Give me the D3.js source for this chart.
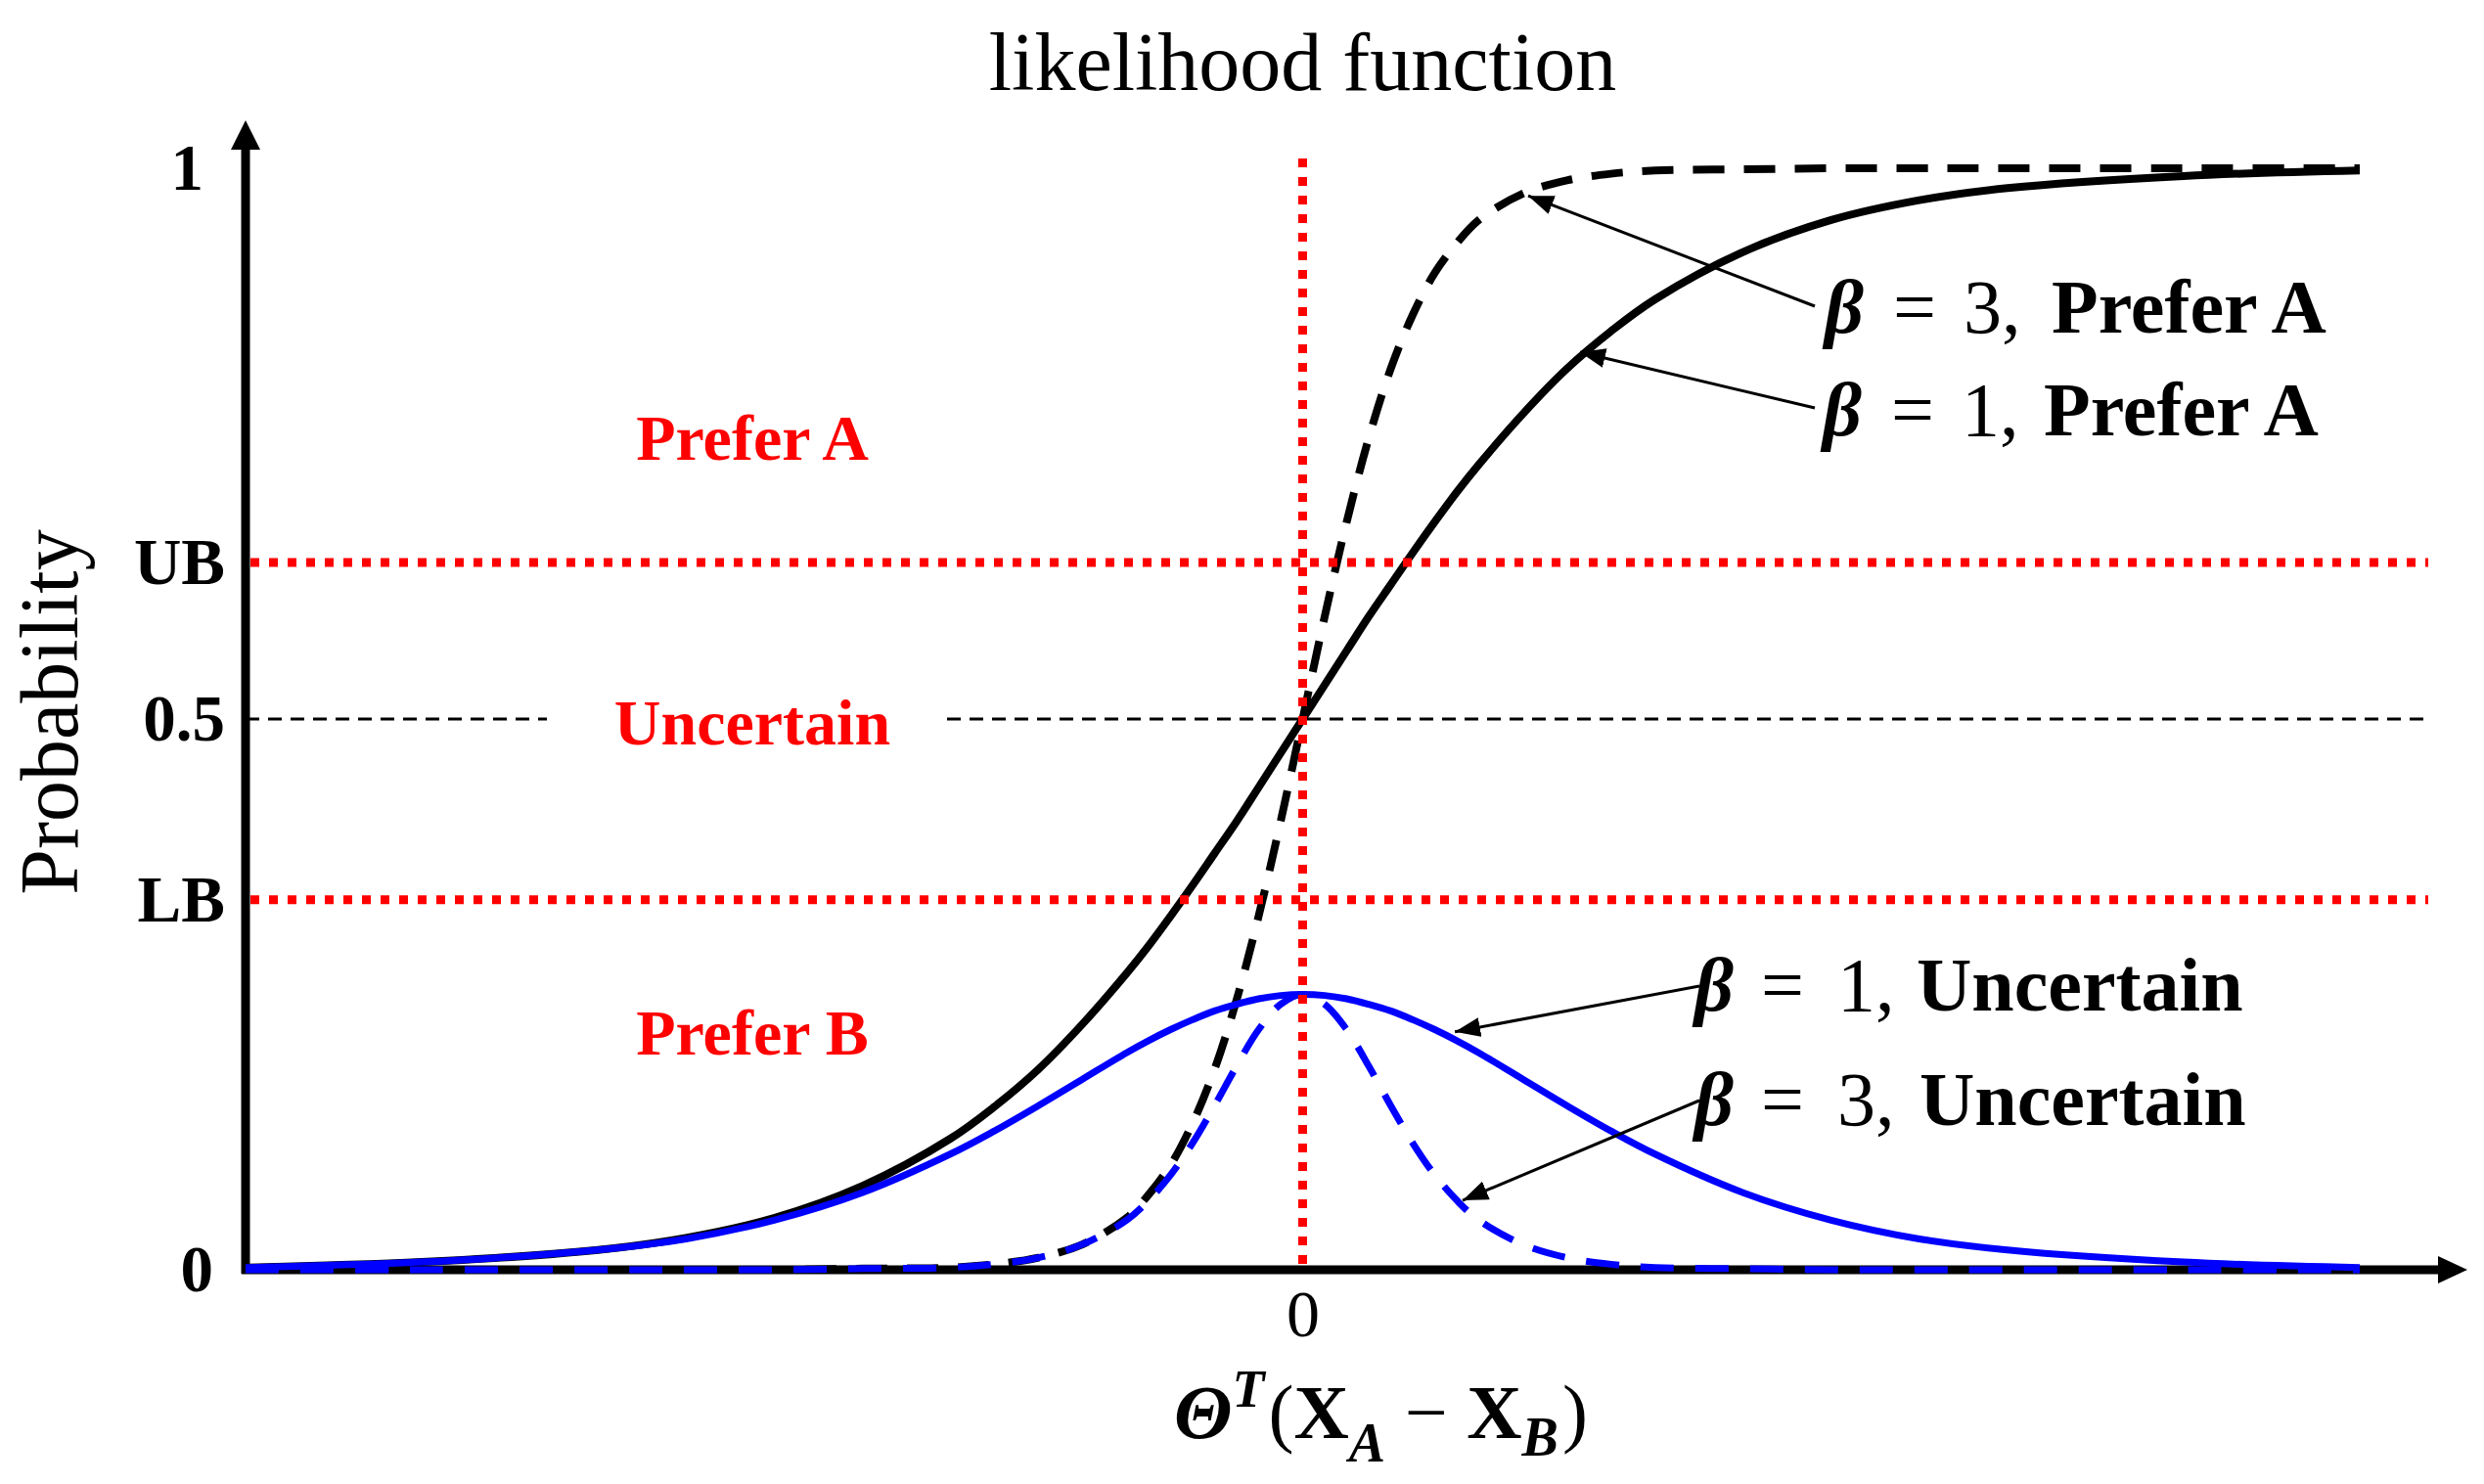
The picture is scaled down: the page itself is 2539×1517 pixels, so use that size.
<!DOCTYPE html>
<html>
<head>
<meta charset="utf-8">
<script src="https://cdn.jsdelivr.net/npm/d3@7"></script>
<style>
    body { margin: 0; background: #fff; }
    text { font-family: "Liberation Serif", "DejaVu Serif", serif; }
</style>
</head>
<body>
<svg id="chart"></svg>
<script>
// x positions the curves were read at
let xValues = [-6, -5, -4, -3.5, -3, -2.5, -2, -1.75, -1.5, -1.25, -1, -0.875, -0.75, -0.625, -0.5, -0.375, -0.25, -0.125,
    0, 0.125, 0.25, 0.375, 0.5, 0.625, 0.75, 0.875, 1, 1.25, 1.5, 1.75, 2, 2.5, 3, 3.5, 4, 5, 6];

let preferA1 = [0.002, 0.007, 0.018, 0.029, 0.047, 0.076, 0.119, 0.148, 0.182, 0.223, 0.269, 0.294, 0.321, 0.349, 0.378, 0.407, 0.438, 0.469,
    0.5, 0.531, 0.562, 0.593, 0.622, 0.651, 0.679, 0.706, 0.731, 0.777, 0.818, 0.852, 0.881, 0.924, 0.953, 0.971, 0.982, 0.993, 0.998];
let preferA3 = [0, 0, 0, 0, 0, 0.001, 0.002, 0.005, 0.011, 0.023, 0.047, 0.068, 0.095, 0.133, 0.182, 0.245, 0.321, 0.407,
    0.5, 0.593, 0.679, 0.755, 0.818, 0.867, 0.905, 0.932, 0.953, 0.977, 0.989, 0.995, 0.998, 0.999, 1, 1, 1, 1, 1];
let uncertain1 = [0.002, 0.007, 0.018, 0.028, 0.045, 0.070, 0.105, 0.126, 0.149, 0.173, 0.197, 0.208, 0.218, 0.227, 0.235, 0.241, 0.246, 0.249,
    0.25, 0.249, 0.246, 0.241, 0.235, 0.227, 0.218, 0.208, 0.197, 0.173, 0.149, 0.126, 0.105, 0.070, 0.045, 0.028, 0.018, 0.007, 0.002];
let uncertain3 = [0, 0, 0, 0, 0, 0.001, 0.002, 0.005, 0.011, 0.023, 0.045, 0.063, 0.086, 0.115, 0.149, 0.185, 0.218, 0.241,
    0.25, 0.241, 0.218, 0.185, 0.149, 0.115, 0.086, 0.063, 0.045, 0.023, 0.011, 0.005, 0.002, 0.001, 0, 0, 0, 0, 0];

let yTickValues = [0, 0.336, 0.5, 0.642, 1];
let yTickLabels = ['0', 'LB', '0.5', 'UB', '1'];
let xTickValues = [0];
let xTickLabels = ['0'];
let bounds = [0.336, 0.642];
let regionNames = ['Prefer A', 'Uncertain', 'Prefer B'];
let betaNames = ['3', '1', '1', '3'];
let curveNames = ['Prefer A', 'Prefer A', 'Uncertain', 'Uncertain'];

let width = 2539;
let height = 1517;

let x = d3.scaleLinear().domain([-6, 6]).range([251, 2412]);
let y = d3.scaleLinear().domain([0, 1]).range([1298, 172]);

let svg = d3.select('#chart').attr('width', width).attr('height', height)
    .style('background', '#fff');

svg.append('defs').append('marker')
    .attr('id', 'leader')
    .attr('viewBox', '0 0 26 20')
    .attr('refX', 26).attr('refY', 10)
    .attr('markerWidth', 26).attr('markerHeight', 20)
    .attr('markerUnits', 'userSpaceOnUse')
    .attr('orient', 'auto')
    .append('path').attr('d', 'M0,0 L26,10 L0,20 Z').attr('fill', '#000');

/** title **/
svg.append('text')
    .attr('x', x(0)).attr('y', 92)
    .attr('text-anchor', 'middle')
    .style('font-size', '84px')
    .text('likelihood function');

/** axes **/
let x0 = x(-6), y0 = y(0);
svg.append('line').attr('x1', x0).attr('y1', y0 + 4).attr('x2', x0).attr('y2', 145)
    .attr('stroke', '#000').attr('stroke-width', 9);
svg.append('path').attr('d', 'M' + (x0 - 15) + ',153 L' + x0 + ',123 L' + (x0 + 15) + ',153 Z').attr('fill', '#000');
svg.append('line').attr('x1', x0 - 4).attr('y1', y0).attr('x2', 2500).attr('y2', y0)
    .attr('stroke', '#000').attr('stroke-width', 9);
svg.append('path').attr('d', 'M2492,' + (y0 - 14) + ' L2522,' + y0 + ' L2492,' + (y0 + 14) + ' Z').attr('fill', '#000');

let yShift = {'0': -12, '1': -22};
let yAxis = d3.axisLeft(y).tickValues(yTickValues)
    .tickFormat(function (d, i) { return yTickLabels[i]; })
    .tickSize(0).tickPadding(21);
let gy = svg.append('g').attr('transform', 'translate(' + x0 + ',0)').call(yAxis);
gy.select('.domain').remove();
gy.selectAll('text').style('font-family', '"Liberation Serif", serif')
    .style('font-size', '67px').style('font-weight', 'bold').attr('fill', '#000')
    .attr('dx', function (d, i) { return yShift[yTickLabels[i]] || 0; });

let xAxis = d3.axisBottom(x).tickValues(xTickValues)
    .tickFormat(function (d, i) { return xTickLabels[i]; })
    .tickSize(0).tickPadding(20);
let gx = svg.append('g').attr('transform', 'translate(0,' + y0 + ')').call(xAxis);
gx.select('.domain').remove();
gx.selectAll('text').style('font-family', '"Liberation Serif", serif')
    .style('font-size', '68px').attr('fill', '#000');

svg.append('text')
    .attr('transform', 'translate(50,728) rotate(-90)')
    .attr('text-anchor', 'middle').attr('dy', '0.35em')
    .style('font-size', '84px')
    .text('Probability');

let xl = svg.append('text').attr('x', 1200).attr('y', 1470).style('font-size', '78px');
xl.append('tspan').style('font-weight', 'bold').style('font-style', 'italic').text('Θ');
xl.append('tspan').style('font-weight', 'bold').style('font-style', 'italic').style('font-size', '54px')
    .attr('dy', -32).text('T');
xl.append('tspan').attr('dy', 32).attr('dx', 4).text('(');
xl.append('tspan').style('font-weight', 'bold').text('X');
xl.append('tspan').style('font-weight', 'bold').style('font-style', 'italic').style('font-size', '56px')
    .attr('dy', 24).text('A');
xl.append('tspan').attr('dy', -24).text(' − ');
xl.append('tspan').style('font-weight', 'bold').text('X');
xl.append('tspan').style('font-weight', 'bold').style('font-style', 'italic').style('font-size', '56px')
    .attr('dy', 18).text('B');
xl.append('tspan').attr('dy', -18).attr('dx', 4).text(')');

/** curves **/
let series = [
    {values: uncertain3, color: '#0000ff', dash: '34,22', width: 7},
    {values: preferA3, color: '#000', dash: '32,20', width: 8},
    {values: preferA1, color: '#000', dash: null, width: 8},
    {values: uncertain1, color: '#0000ff', dash: null, width: 7}
];
let line = d3.line()
    .x(function (d) { return x(d[0]); })
    .y(function (d) { return y(d[1]); })
    .curve(d3.curveCatmullRom);

// black curves go under the blue ones
[series[1], series[2], series[0], series[3]].forEach(function (s) {
    svg.append('path')
        .datum(xValues.map(function (v, i) { return [v, s.values[i]]; }))
        .attr('d', line)
        .attr('fill', 'none')
        .attr('stroke', s.color)
        .attr('stroke-width', s.width)
        .attr('stroke-dasharray', s.dash);
});

/** guide lines **/
[[x0, 559], [968, 2477]].forEach(function (seg) {
    svg.append('line').attr('x1', seg[0]).attr('x2', seg[1]).attr('y1', y(0.5)).attr('y2', y(0.5))
        .attr('stroke', '#000').attr('stroke-width', 3).attr('stroke-dasharray', '14,9');
});

svg.selectAll('.bound').data(bounds).enter().append('line')
    .attr('class', 'bound')
    .attr('x1', x0 + 5).attr('x2', 2482)
    .attr('y1', function (d) { return y(d); })
    .attr('y2', function (d) { return y(d); })
    .attr('stroke', '#ff0000').attr('stroke-width', 9).attr('stroke-dasharray', '9,10');

svg.append('line').attr('x1', x(0)).attr('x2', x(0)).attr('y1', 162).attr('y2', y0)
    .attr('stroke', '#ff0000').attr('stroke-width', 9).attr('stroke-dasharray', '9,10');

let regionY = [470, 761, 1078];
svg.selectAll('.region').data(regionNames).enter().append('text')
    .attr('class', 'region')
    .attr('x', 769)
    .attr('y', function (d, i) { return regionY[i]; })
    .attr('text-anchor', 'middle')
    .attr('fill', '#ff0000')
    .style('font-size', '66px').style('font-weight', 'bold')
    .text(function (d) { return d; });

/** annotations **/
let tips = [[1.28, 0.975], [1.574, 0.833], [0.864, 0.216], [0.908, 0.063]];
let starts = [[1855, 313], [1855, 417], [1737, 1008], [1737, 1125]];
let labelPos = [[1865, 340], [1863, 445], [1732, 1033], [1732, 1150]];
// horizontal offsets of "=", the number and the name behind the beta
let pieceOffsets = [[70, 142, 232], [70, 142, 226], [68, 146, 227], [68, 146, 230]];

tips.forEach(function (t, i) {
    svg.append('line')
        .attr('x1', starts[i][0]).attr('y1', starts[i][1])
        .attr('x2', x(t[0])).attr('y2', y(t[1]))
        .attr('stroke', '#000').attr('stroke-width', 3)
        .attr('marker-end', 'url(#leader)');

    let bx = labelPos[i][0];
    let lbl = svg.append('text').attr('x', bx).attr('y', labelPos[i][1])
        .style('font-size', '78px');
    lbl.append('tspan').style('font-weight', 'bold').style('font-style', 'italic').text('β');
    lbl.append('tspan').attr('x', bx + pieceOffsets[i][0]).text('=');
    lbl.append('tspan').attr('x', bx + pieceOffsets[i][1]).text(betaNames[i] + ',');
    lbl.append('tspan').attr('x', bx + pieceOffsets[i][2]).style('font-weight', 'bold').text(curveNames[i]);
});
</script>
</body>
</html>
